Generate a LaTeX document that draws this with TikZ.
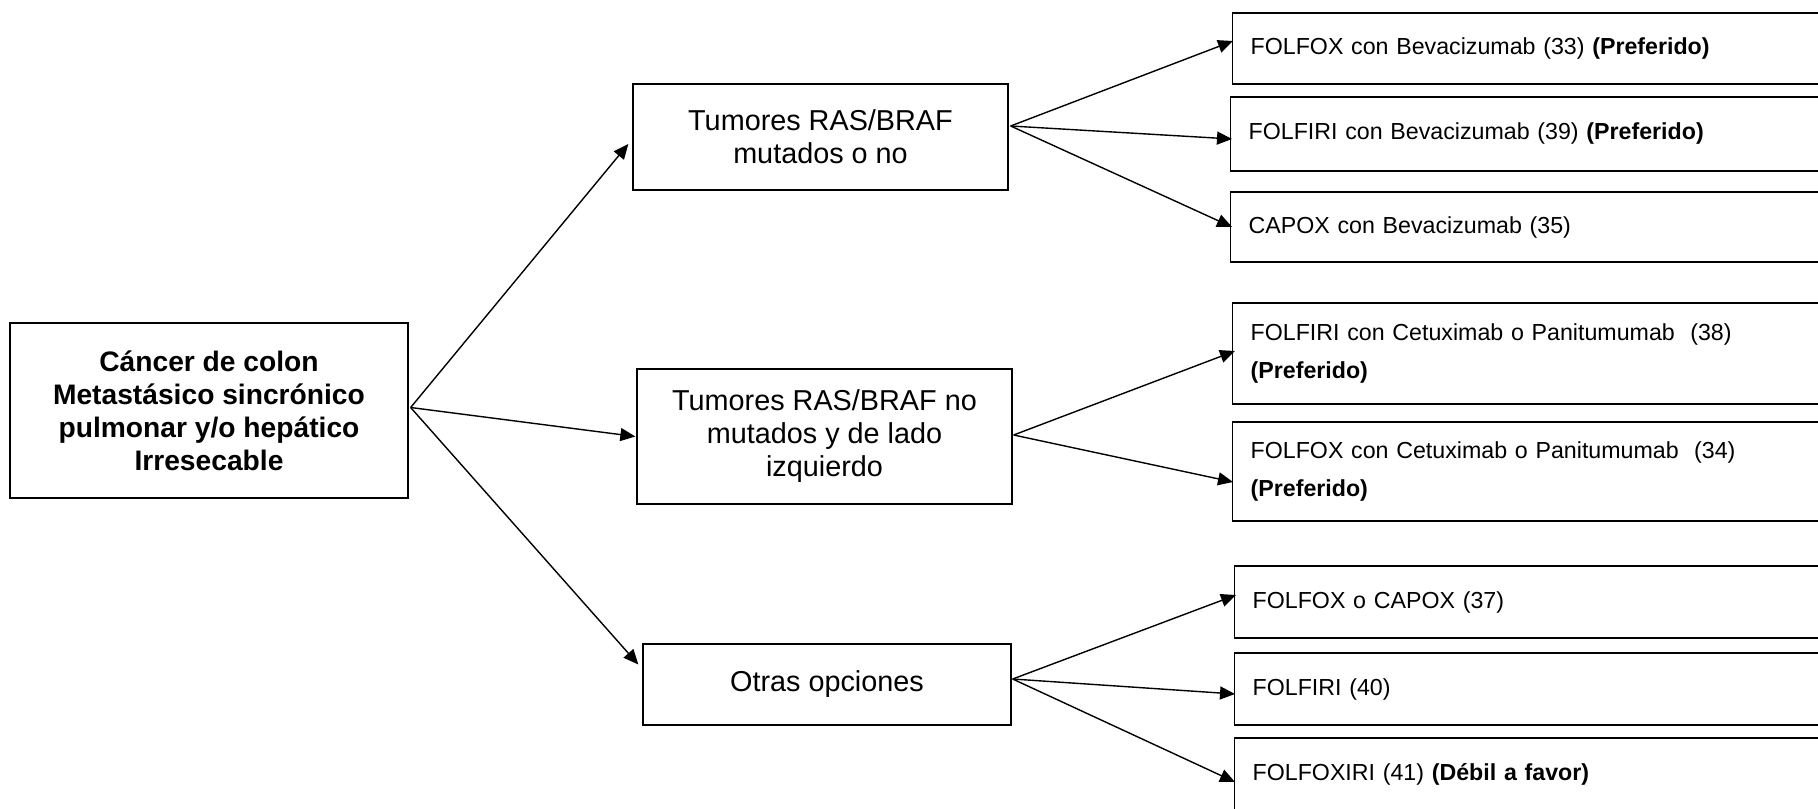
\documentclass[tikz,border=0pt]{standalone}
\usepackage{fontspec}
\setmainfont{Liberation Sans}
\usetikzlibrary{arrows.meta,calc}
\begin{document}
\begin{tikzpicture}[x=0.5pt,y=-0.5pt,
  mainbox/.style={draw, line width=0.65pt, inner sep=0pt, align=center,
    font=\bfseries\fontsize{14.1}{16.5}\selectfont},
  midbox/.style={draw, line width=0.65pt, inner sep=0pt, align=center,
    font=\fontsize{14.4}{16.5}\selectfont},
  optbox/.style={draw, line width=0.65pt, inner xsep=9pt, inner ysep=0pt,
    anchor=west, text width=281pt, align=left, minimum width=299pt,
    font=\fontsize{11.6}{19}\selectfont},
  arr/.style={line width=0.7pt, -{Triangle[length=7.5pt,width=6.5pt]}}
]
\useasboundingbox (0,0) rectangle (1818,808);
\clip (0,0) rectangle (1818,808);

\node[mainbox, minimum width=199pt, minimum height=87.5pt] (L) at (209,410.5)
  {Cáncer de colon\\Metastásico sincrónico\\pulmonar y/o hepático\\Irresecable};

\node[midbox, minimum width=187.5pt, minimum height=53pt] (B1) at (820.5,137)
  {Tumores RAS/BRAF\\mutados o no};
\node[midbox, minimum width=187.5pt, minimum height=67.5pt] (B2) at (824.5,436.5)
  {Tumores RAS/BRAF no\\mutados y de lado\\izquierdo};
\node[midbox, minimum width=184pt, minimum height=40.5pt] (B3) at (827,684.5)
  {Otras opciones};

\node[optbox, minimum height=35.5pt] (R1) at (1232,48.5)
  {FOLFOX con Bevacizumab (33) \textbf{(Preferido)}};
\node[optbox, minimum height=37pt] (R2) at (1230,134)
  {FOLFIRI con Bevacizumab (39) \textbf{(Preferido)}};
\node[optbox, minimum height=35pt] (R3) at (1230,227)
  {CAPOX con Bevacizumab (35)};
\node[optbox, minimum height=50.5pt] (R4) at (1232,353.5)
  {FOLFIRI con Cetuximab o Panitumumab~ (38)\\\textbf{(Preferido)}};
\node[optbox, minimum height=49.5pt] (R5) at (1232,471.5)
  {FOLFOX con Cetuximab o Panitumumab~ (34)\\\textbf{(Preferido)}};
\node[optbox, minimum height=36pt] (R6) at (1234,602)
  {FOLFOX o CAPOX (37)};
\node[optbox, minimum height=36pt] (R7) at (1234,689)
  {FOLFIRI (40)};
\node[optbox, minimum height=36pt] (R8) at (1234,774)
  {FOLFOXIRI (41) \textbf{(Débil a favor)}};

\coordinate (Lo) at ($(L.east)+(2,-3)$);
\draw[arr] (Lo) -- ($(B1.west)+(-4,7)$);
\draw[arr] (Lo) -- ($(B2.west)+(-1,0)$);
\draw[arr] (Lo) -- ($(B3.west)+(-4,-20)$);

\coordinate (B1o) at ($(B1.east)+(2,-11)$);
\draw[arr] (B1o) -- ($(R1.west)+(1,-7.5)$);
\draw[arr] (B1o) -- ($(R2.west)+(2,5)$);
\draw[arr] (B1o) -- ($(R3.west)+(2,0)$);

\coordinate (B2o) at ($(B2.east)+(1,-1.5)$);
\draw[arr] (B2o) -- ($(R4.west)+(3,-2.5)$);
\draw[arr] (B2o) -- ($(R5.west)+(1,10.5)$);

\coordinate (B3o) at ($(B3.east)+(1,-5.5)$);
\draw[arr] (B3o) -- ($(R6.west)+(2,-7)$);
\draw[arr] (B3o) -- ($(R7.west)+(1,5)$);
\draw[arr] (B3o) -- ($(R8.west)+(1,8)$);
\end{tikzpicture}
\end{document}
